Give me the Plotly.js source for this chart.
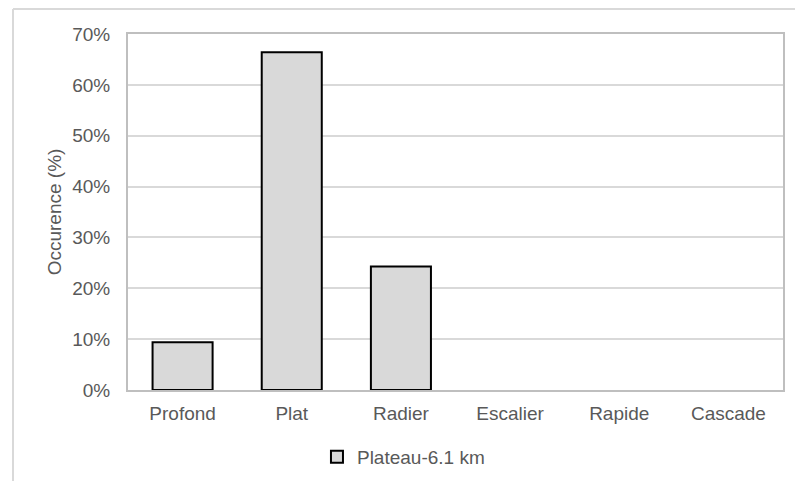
<!DOCTYPE html>
<html>
<head>
<meta charset="utf-8">
<script src="https://cdn.plot.ly/plotly-3.0.1.min.js"></script>
<style>
  html, body { margin: 0; padding: 0; background: #ffffff; }
  #chart { width: 795px; height: 481px; }
</style>
</head>
<body>
<div id="chart"></div>
<script>
// Occurrence of each morphological facies along the reach
const categories = ['Profond', 'Plat', 'Radier', 'Escalier', 'Rapide', 'Cascade'];
const occurrence = [9.4, 66.4, 24.3, 0, 0, 0];
const seriesName = 'Plateau-6.1 km';
const yTickValues = [0, 10, 20, 30, 40, 50, 60, 70];
const yTickLabels = ['0%', '10%', '20%', '30%', '40%', '50%', '60%', '70%'];

const textColor = '#595959';
const fontFamily = '"Liberation Sans", Arial, sans-serif';

// empty facies get no outline so nothing is drawn for them
const outlineWidths = occurrence.map(v => (v > 0 ? 2 : 0));

const traces = [{
  type: 'bar',
  x: categories,
  y: occurrence,
  name: seriesName,
  marker: { color: '#d9d9d9', line: { color: '#000000', width: outlineWidths } },
  showlegend: true
}];

const layout = {
  width: 795,
  height: 481,
  margin: { l: 128, r: 12, t: 34, b: 91, autoexpand: false },
  paper_bgcolor: '#ffffff',
  plot_bgcolor: '#ffffff',
  font: { family: fontFamily, size: 19, color: textColor },
  bargap: 0.45,
  showlegend: true,
  legend: {
    orientation: 'h',
    x: 0.2885, xanchor: 'left',
    y: -0.188, yanchor: 'middle',
    font: { size: 19, color: textColor },
    itemwidth: 30
  },
  xaxis: {
    type: 'category',
    tickfont: { size: 19, color: textColor },
    showgrid: false,
    showline: true, linecolor: '#bfbfbf', linewidth: 2, mirror: true,
    ticks: '', ticklabelstandoff: 5
  },
  yaxis: {
    range: [0, 70],
    tickvals: yTickValues,
    ticktext: yTickLabels,
    tickfont: { size: 19, color: textColor },
    showgrid: true, gridcolor: '#d9d9d9', gridwidth: 2,
    showline: true, linecolor: '#bfbfbf', linewidth: 2, mirror: true,
    zeroline: false,
    ticks: '', ticklabelstandoff: 12,
    title: { text: 'Occurence (%)', font: { size: 19, color: textColor }, standoff: 6 }
  },
  shapes: [
    // outer chart frame (top and left edges)
    { type: 'line', xref: 'paper', yref: 'paper', x0: -0.1756, x1: 1.05, y0: 1.0702, y1: 1.0702,
      line: { color: '#d9d9d9', width: 2 } },
    { type: 'line', xref: 'paper', yref: 'paper', x0: -0.1756, x1: -0.1756, y0: -0.3, y1: 1.0702,
      line: { color: '#d9d9d9', width: 2 } }
  ]
};

Plotly.newPlot('chart', traces, layout, { displayModeBar: false, staticPlot: true });
</script>
</body>
</html>
